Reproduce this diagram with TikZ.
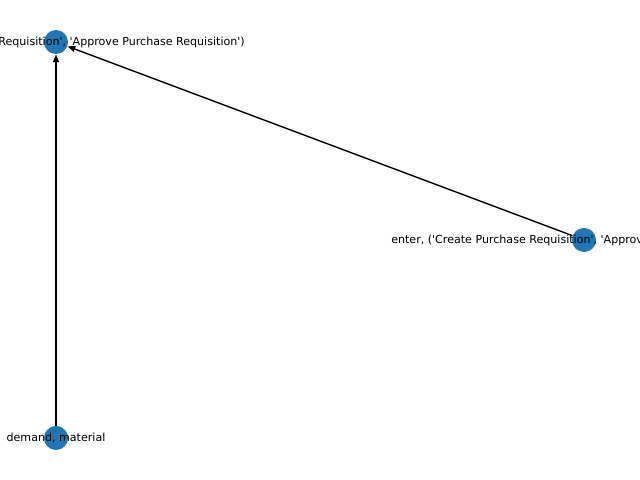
\documentclass[tikz,border=0pt]{standalone}
\usepackage{fontspec}
\newfontfamily\lblfont{DejaVu Sans}
\usepackage{tikz}
\usetikzlibrary{positioning,arrows.meta}
\definecolor{nodeblue}{HTML}{1F77B4}

\begin{document}
\begin{tikzpicture}[x=0.01in, y=-0.01in,
      every node/.style={font=\lblfont\fontsize{8}{9.6}\selectfont},
      act/.style={circle, fill=nodeblue, minimum size=0.24in, inner sep=0pt},
      lbl/.style={inner sep=0pt},
      flow/.style={line width=1pt, -{Triangle[length=5.6pt,width=4.2pt]}}]
    \useasboundingbox (0,0) rectangle (640,480);
    \clip (0,0) rectangle (640,480);
    % events
    \node[act] (appr) at (56,42) {};
    \node[act] (ent) at (584,240) {};
    \node[act] (dem) at (56,438) {};
    \draw[flow] (dem) -- (appr);
    \draw[flow] (ent) -- (appr);
    % labels
    \node[lbl, anchor=east] (apprlbl) at (245,42) {('Create Purchase Requisition', 'Approve Purchase Requisition')};
    \node[lbl, anchor=west] (entlbl) at (391,240) {enter, ('Create Purchase Requisition', 'Approve Purchase Requisition')};
    \node[lbl] (demlbl) at (dem) {demand, material};
  \end{tikzpicture}
\end{document}
